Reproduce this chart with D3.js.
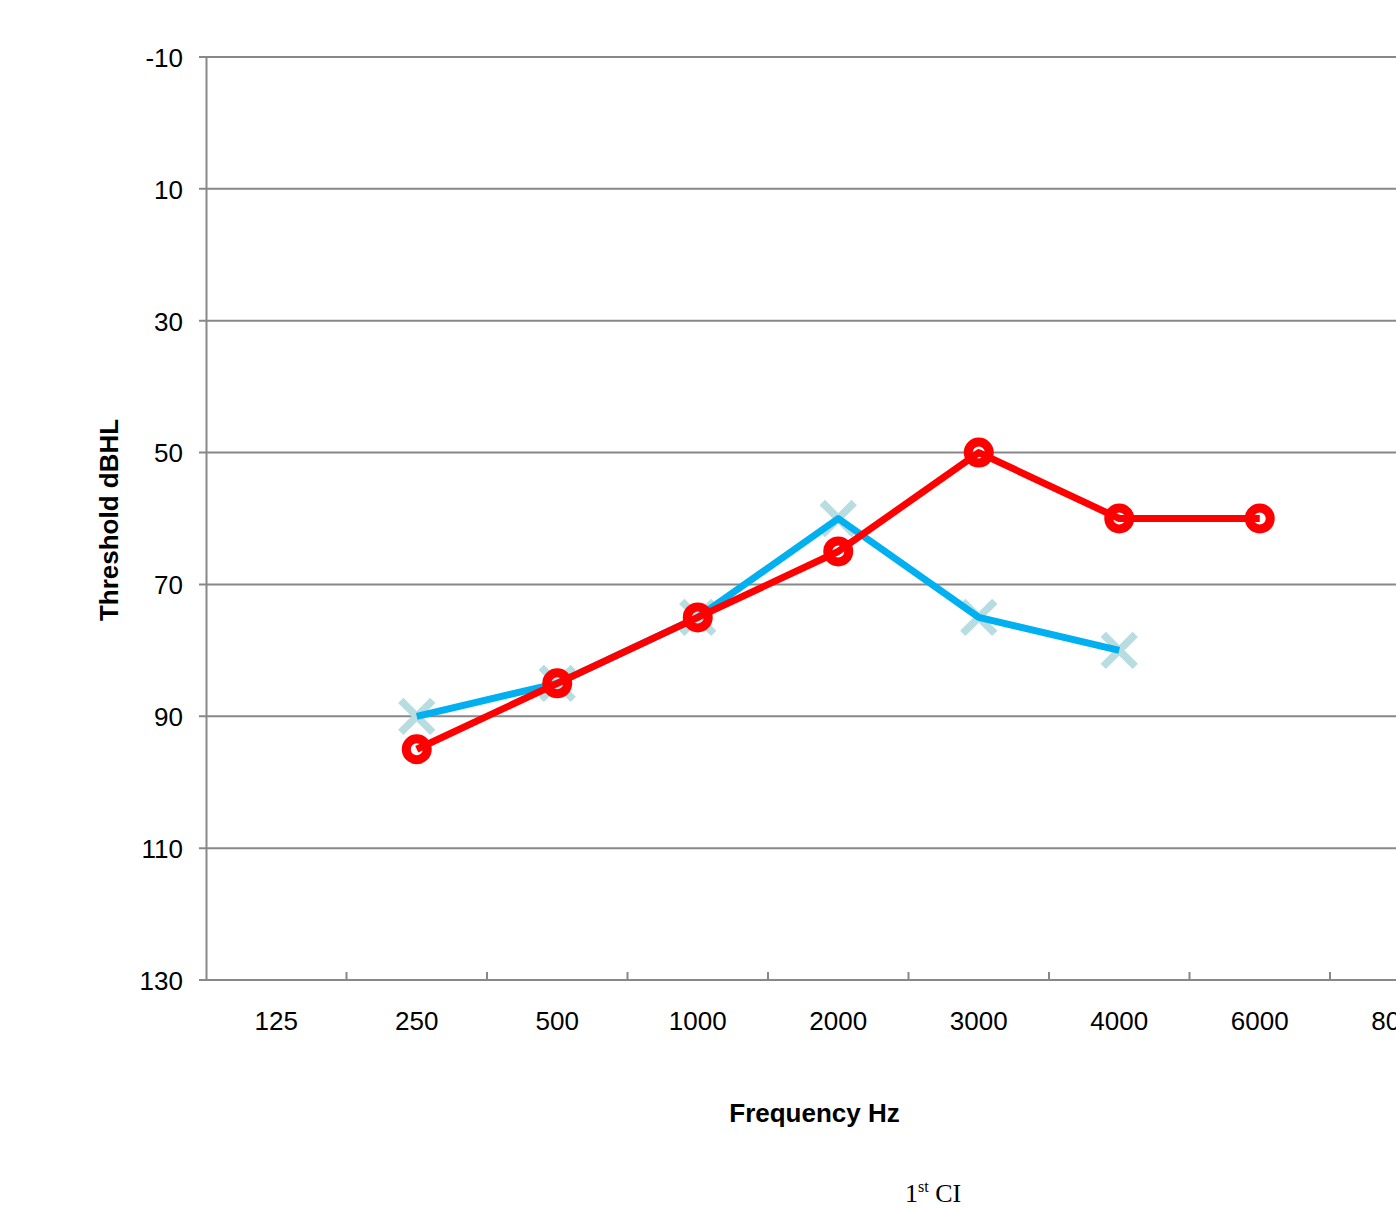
<!DOCTYPE html>
<html>
<head>
<meta charset="utf-8">
<script src="https://cdn.jsdelivr.net/npm/d3@7"></script>
<style>
    body { margin: 0; background: #fff; overflow: hidden; }
    text { font-family: Arial, "Liberation Sans", sans-serif; }
</style>
</head>
<body>
<div id="chart"></div>
<script>
// Data
const frequencies = ['125', '250', '500', '1000', '2000', '3000', '4000', '6000', '8000'];
const yTicks = [-10, 10, 30, 50, 70, 90, 110, 130];
const blueFreqs = ['250', '500', '1000', '2000', '3000', '4000'];
const blueValues = [90, 85, 75, 60, 75, 80];
const redFreqs = ['250', '500', '1000', '2000', '3000', '4000', '6000'];
const redValues = [95, 85, 75, 65, 50, 60, 60];

function draw() {
    // Dimensions
    let dimensions = {
        width: 1396,
        height: 1208,
        left: 206,
        top: 57,
        bottom: 980,
        step: 140.5,
    };

    const svg = d3.select('#chart')
        .append('svg')
        .attr('width', dimensions.width)
        .attr('height', dimensions.height);

    // Scales
    const xScale = d3.scaleBand()
        .domain(frequencies)
        .range([dimensions.left, dimensions.left + dimensions.step * frequencies.length]);

    const yScale = d3.scaleLinear()
        .domain([-10, 130])
        .range([dimensions.top, dimensions.bottom]);

    const cx = f => xScale(f) + xScale.bandwidth() / 2;

    // Gridlines (include the left tick stub)
    svg.append('g')
        .selectAll('line')
        .data(yTicks)
        .join('line')
        .attr('x1', dimensions.left - 7)
        .attr('x2', dimensions.width)
        .attr('y1', d => yScale(d))
        .attr('y2', d => yScale(d))
        .attr('stroke', '#888')
        .attr('stroke-width', 2);

    // Y axis
    const yAxis = d3.axisLeft(yScale)
        .tickValues(yTicks)
        .tickFormat(d => `${d}`)
        .tickSize(0)
        .tickPadding(23);

    const yAxisGroup = svg.append('g')
        .attr('transform', `translate(${dimensions.left}, 0)`)
        .call(yAxis);
    yAxisGroup.select('.domain').attr('stroke', '#888').attr('stroke-width', 2);
    yAxisGroup.selectAll('text')
        .attr('font-size', 26)
        .attr('font-family', 'Arial, "Liberation Sans", sans-serif')
        .attr('fill', '#000')
        .attr('dy', '0.36em');

    // X axis
    const xAxis = d3.axisBottom(xScale)
        .tickSize(0)
        .tickPadding(31.5);

    const xAxisGroup = svg.append('g')
        .attr('transform', `translate(0, ${dimensions.bottom})`)
        .call(xAxis);
    xAxisGroup.select('.domain').remove();
    xAxisGroup.selectAll('text')
        .attr('font-size', 26)
        .attr('font-family', 'Arial, "Liberation Sans", sans-serif')
        .attr('fill', '#000');

    // Category boundary ticks pointing up
    svg.append('g')
        .selectAll('line')
        .data(frequencies.slice(1))
        .join('line')
        .attr('x1', d => xScale(d))
        .attr('x2', d => xScale(d))
        .attr('y1', dimensions.bottom)
        .attr('y2', dimensions.bottom - 8)
        .attr('stroke', '#888')
        .attr('stroke-width', 2);

    // Series
    const blueData = blueFreqs.map((f, i) => ({ f, v: blueValues[i] }));
    const redData = redFreqs.map((f, i) => ({ f, v: redValues[i] }));

    const lineGenerator = d3.line()
        .x(d => cx(d.f))
        .y(d => yScale(d.v));

    // Blue: cross markers under the line
    const xSize = 16;
    svg.append('g')
        .selectAll('path')
        .data(blueData)
        .join('path')
        .attr('d', d => {
            const x = cx(d.f), y = yScale(d.v);
            return `M${x - xSize},${y - xSize}L${x + xSize},${y + xSize}M${x - xSize},${y + xSize}L${x + xSize},${y - xSize}`;
        })
        .attr('stroke', '#b7dde1')
        .attr('stroke-width', 7.5)
        .attr('fill', 'none');

    svg.append('path')
        .datum(blueData)
        .attr('d', lineGenerator)
        .attr('fill', 'none')
        .attr('stroke', '#00b0f0')
        .attr('stroke-width', 7)
        .attr('stroke-linejoin', 'round');

    // Red: line then ring markers
    svg.append('path')
        .datum(redData)
        .attr('d', lineGenerator)
        .attr('fill', 'none')
        .attr('stroke', '#ff0000')
        .attr('stroke-width', 7)
        .attr('stroke-linejoin', 'round');

    svg.append('g')
        .selectAll('circle')
        .data(redData)
        .join('circle')
        .attr('cx', d => cx(d.f))
        .attr('cy', d => yScale(d.v))
        .attr('r', 10.5)
        .attr('fill', 'none')
        .attr('stroke', '#ff0000')
        .attr('stroke-width', 9);

    // Titles
    svg.append('text')
        .attr('transform', 'translate(118, 520) rotate(-90)')
        .attr('text-anchor', 'middle')
        .attr('font-size', 26)
        .attr('font-weight', 'bold')
        .text('Threshold dBHL');

    svg.append('text')
        .attr('x', 814.5)
        .attr('y', 1122)
        .attr('text-anchor', 'middle')
        .attr('font-size', 26)
        .attr('font-weight', 'bold')
        .text('Frequency Hz');

    const caption = svg.append('text')
        .attr('x', 905)
        .attr('y', 1202)
        .style('font-family', '"Liberation Serif", "Times New Roman", serif')
        .attr('font-size', 26);
    caption.append('tspan').text('1');
    caption.append('tspan').attr('font-size', 16).attr('dy', -10).text('st');
    caption.append('tspan').attr('dy', 10).text(' CI');
}

draw();
</script>
</body>
</html>
